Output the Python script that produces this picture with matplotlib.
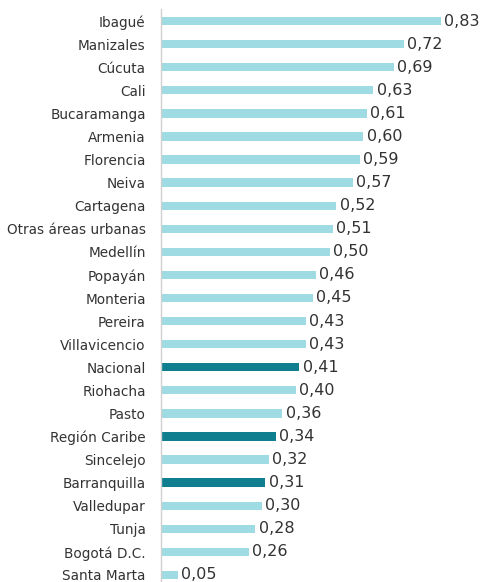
import matplotlib
matplotlib.use('Agg')
import matplotlib.pyplot as plt

cities = ['Ibagué', 'Manizales', 'Cúcuta', 'Cali', 'Bucaramanga', 'Armenia',
          'Florencia', 'Neiva', 'Cartagena', 'Otras áreas urbanas', 'Medellín',
          'Popayán', 'Monteria', 'Pereira', 'Villavicencio', 'Nacional',
          'Riohacha', 'Pasto', 'Región Caribe', 'Sincelejo', 'Barranquilla',
          'Valledupar', 'Tunja', 'Bogotá D.C.', 'Santa Marta']
values = [0.83, 0.72, 0.69, 0.63, 0.61, 0.60, 0.59, 0.57, 0.52, 0.51, 0.50,
          0.46, 0.45, 0.43, 0.43, 0.41, 0.40, 0.36, 0.34, 0.32, 0.31, 0.30,
          0.28, 0.26, 0.05]
highlight = ['Nacional', 'Región Caribe', 'Barranquilla']

LIGHT = '#9fdbe3'
DARK = '#0f7f8f'
TEXT = '#333333'

W, H = 484, 582
fig = plt.figure(figsize=(W / 100, H / 100), dpi=100)
# axes placed in pixel terms; bottom row is cut by the image edge
left, right = 161, 484
top, bottom = 9.5, 586.5
ax = fig.add_axes([left / W, 1 - bottom / H, (right - left) / W, (bottom - top) / H])

colors = [DARK if c in highlight else LIGHT for c in cities]
y = list(range(len(cities)))
ax.barh(y, values, height=0.36, color=colors)
ax.set_ylim(len(cities) - 0.5, -0.5)
ax.set_xlim(0, (right - left) / 337)

for yi, v in zip(y, values):
    ax.text(v + 0.01, yi, f'{v:.2f}'.replace('.', ','), va='center', ha='left',
            fontsize=11.5, color=TEXT)

ax.set_yticks(y)
ax.set_yticklabels(cities, fontsize=9.8, color=TEXT)
ax.tick_params(axis='y', length=0, pad=11)
ax.set_xticks([])
for s in ['top', 'right', 'bottom']:
    ax.spines[s].set_visible(False)
ax.spines['left'].set_color('#d0d0d0')
ax.spines['left'].set_linewidth(1)

fig.savefig('out.png', dpi=100)
